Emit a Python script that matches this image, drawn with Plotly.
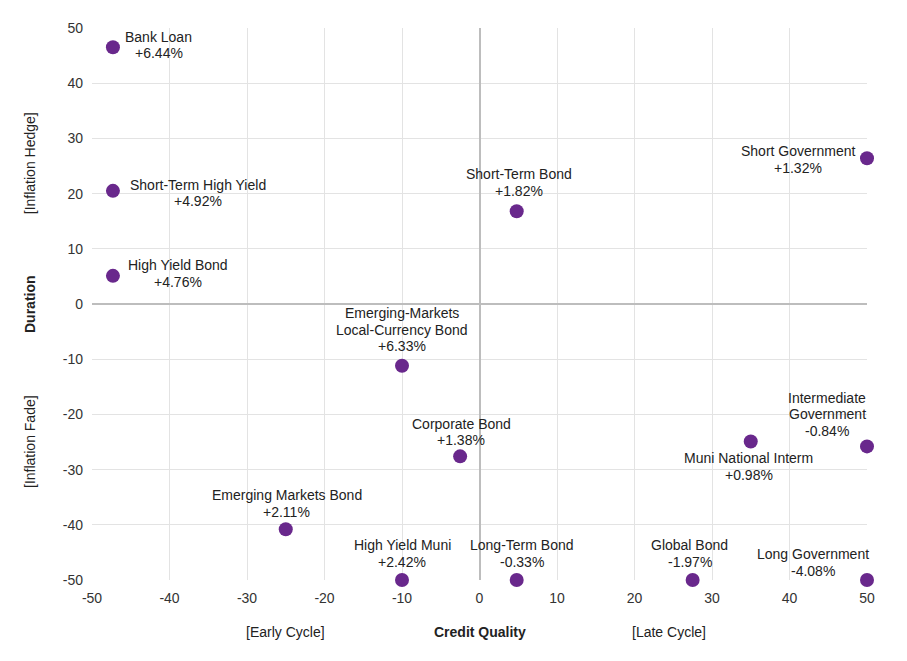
import plotly.graph_objects as go

# Values
funds = ["Bank Loan", "Short-Term High Yield", "High Yield Bond", "Short-Term Bond",
         "Short Government", "Emerging-Markets<br>Local-Currency Bond", "Corporate Bond",
         "Muni National Interm", "Intermediate<br>Government", "Emerging Markets Bond",
         "High Yield Muni", "Long-Term Bond", "Global Bond", "Long Government"]
returns = ["+6.44%", "+4.92%", "+4.76%", "+1.82%", "+1.32%", "+6.33%", "+1.38%",
           "+0.98%", "-0.84%", "+2.11%", "+2.42%", "-0.33%", "-1.97%", "-4.08%"]
credit_quality = [-47.3, -47.3, -47.3, 4.8, 50, -10, -2.5, 35, 50, -25, -10, 4.8, 27.5, 50]
duration = [46.5, 20.5, 5.1, 16.8, 26.4, -11.2, -27.6, -24.9, -25.8, -40.8, -50, -50, -50, -50]
tick_vals = [-50, -40, -30, -20, -10, 0, 10, 20, 30, 40, 50]
tick_text = ["-50", "-40", "-30", "-20", "-10", "0", "10", "20", "30", "40", "50"]

# centre of each label block relative to its point, in pixels (dx, dy), dy positive = up
label_shift = [(46, 2.5), (85, -2), (65, 2.5), (2, 29), (-69, -1), (0, 36), (1, 24.5),
               (-2, -25), (-40, 32), (1, 25.5), (0, 26.5), (5, 26.5), (-3, 26.5), (-54, 17.5)]
line_gap = 16.5

purple = "#69288C"
text_font = dict(size=14, color="#222222")

fig = go.Figure(go.Scatter(
    x=credit_quality, y=duration, mode="markers",
    marker=dict(color=purple, size=14, line=dict(width=0)),
    hovertext=funds, showlegend=False, cliponaxis=False,
))

for name, ret, x, y, (dx, dy) in zip(funds, returns, credit_quality, duration, label_shift):
    lines = name.split("<br>") + [ret]
    n = len(lines)
    for i, line in enumerate(lines):
        off = ((n - 1) / 2 - i) * line_gap
        fig.add_annotation(x=x, y=y, text=line, showarrow=False,
                           xshift=dx, yshift=dy + off, align="center", font=text_font)

# axis titles and side notes
for x, label in [(0, "<b>Credit Quality</b>"), (-25, "[Early Cycle]"), (24.5, "[Late Cycle]")]:
    fig.add_annotation(x=x, y=-0.094, xref="x", yref="paper", text=label,
                       xanchor="center", yanchor="middle", showarrow=False, font=text_font)
for y, label in [(0, "<b>Duration</b>"), (25.5, "[Inflation Hedge]"), (-25, "[Inflation Fade]")]:
    fig.add_annotation(x=-0.08, y=y, xref="paper", yref="y", text=label, textangle=-90,
                       xanchor="center", yanchor="middle", showarrow=False, font=text_font)

tick_font = dict(size=14, color="#333333")
fig.update_xaxes(range=[-50, 50], tickvals=tick_vals, ticktext=tick_text,
                 showgrid=True, gridcolor="#E3E3E3",
                 zeroline=True, zerolinecolor="#BDBDBD", zerolinewidth=2,
                 showline=False, ticks="", tickfont=tick_font, ticklabelstandoff=8)
fig.update_yaxes(range=[-50, 50], tickvals=tick_vals, ticktext=tick_text,
                 showgrid=True, gridcolor="#E3E3E3",
                 zeroline=True, zerolinecolor="#BDBDBD", zerolinewidth=2,
                 showline=False, ticks="", tickfont=tick_font, ticklabelstandoff=8)

fig.update_layout(
    width=899, height=653,
    margin=dict(l=84, r=40, t=14, b=81),
    plot_bgcolor="white", paper_bgcolor="white",
    font=dict(family="Liberation Sans, Arial, sans-serif", size=14, color="#222222"),
)

fig.write_html("out.html")
